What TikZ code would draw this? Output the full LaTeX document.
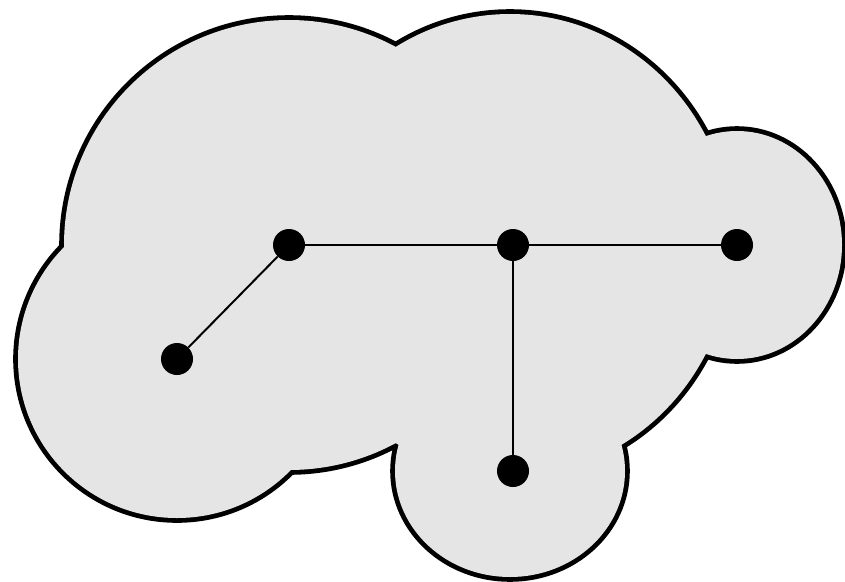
\documentclass[tikz,border=0pt]{standalone}
\begin{document}
\begin{tikzpicture}[x=0.03cm,y=-0.03cm,
  dot/.style={circle,fill=black,inner sep=0pt,minimum size=0.96cm},
  edge/.style={line width=1.7pt},
  blobline/.style={line width=8.2pt},
  blobfill/.style={fill=gray!20}]
\useasboundingbox (0,0) rectangle (845,581);
\clip (0,0) rectangle (845,581);
% outline (outer half of thick strokes remains)
\draw[blobline] (289,245) circle [radius=225];
\draw[blobline] (510,245) ellipse [x radius=222, y radius=231];
\draw[blobline] (737,245) ellipse [x radius=105, y radius=114];
\draw[blobline] (510,471) ellipse [x radius=115, y radius=106];
\draw[blobline] (177,359) circle [radius=159];
% fill of the union
\fill[blobfill] (289,245) circle [radius=225];
\fill[blobfill] (510,245) ellipse [x radius=222, y radius=231];
\fill[blobfill] (737,245) ellipse [x radius=105, y radius=114];
\fill[blobfill] (510,471) ellipse [x radius=115, y radius=106];
\fill[blobfill] (177,359) circle [radius=159];
% graph
\node[dot] (a) at (177,359) {};
\node[dot] (b) at (289,245) {};
\node[dot] (c) at (513,245) {};
\node[dot] (d) at (737,245) {};
\node[dot] (e) at (513,471) {};
\draw[edge] (a) -- (b);
\draw[edge] (b) -- (c);
\draw[edge] (c) -- (d);
\draw[edge] (c) -- (e);
\end{tikzpicture}
\end{document}
